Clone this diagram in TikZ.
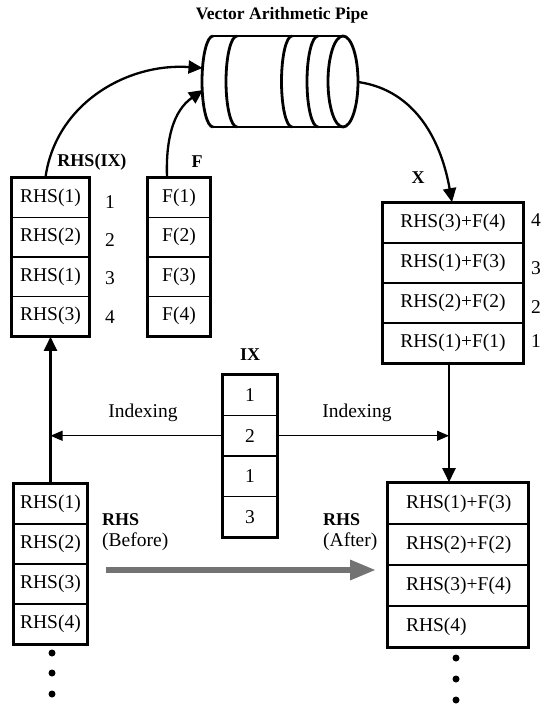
\documentclass[tikz,border=0pt]{standalone}
\usepackage{fontspec}
\setmainfont{Liberation Serif}
\usetikzlibrary{arrows.meta,calc}
\newcommand\cellfont{\fontsize{19.5}{21}\selectfont}
\newcommand\labfont{\fontsize{18}{20}\selectfont\bfseries}
\begin{document}
\begin{tikzpicture}[x=1pt,y=1pt,
  cell/.style={draw, line width=1.6pt, inner sep=0pt, font=\cellfont, anchor=center},
  frame/.style={line width=3.2pt},
  lab/.style={font=\labfont, inner sep=0pt},
  txt/.style={font=\cellfont, inner sep=0pt},
  conn/.style={line width=2.3pt, -{Triangle[length=14pt,width=13pt]}},
  idx/.style={line width=1.1pt, -{Triangle[length=12pt,width=10pt]}},
  pipe/.style={line width=2.8pt},
  dot/.style={fill=black, circle, inner sep=0pt, minimum size=7pt}]
\useasboundingbox (0,0) rectangle (554,-706);

% title
\node[lab, font=\fontsize{17.5}{19}\selectfont\bfseries] (title) at (282,-15) {Vector Arithmetic Pipe};

% the pipe: a cylinder with ring arcs
\draw[pipe] (213,-36) -- (343,-36) (213,-127) -- (343,-127);
\draw[pipe] (213,-36) arc[start angle=90, end angle=270, x radius=11, y radius=45.5];
\draw[pipe] (237,-36) arc[start angle=90, end angle=270, x radius=11, y radius=45.5];
\draw[pipe] (292,-36) arc[start angle=90, end angle=270, x radius=10.5, y radius=45.5];
\draw[pipe] (318,-36) arc[start angle=90, end angle=270, x radius=11, y radius=45.5];
\draw[pipe] (343,-81.5) ellipse[x radius=15, y radius=45.5];
\coordinate (pipeA) at (202.5,-68);
\coordinate (pipeB) at (203,-90);
\coordinate (pipeC) at (358,-82);

% RHS(IX) column
\foreach \t [count=\i] in {RHS(1),RHS(2),RHS(1),RHS(3)}
  \node[cell, minimum width=77pt, minimum height=39.5pt] (a\i) at (50.5,-178-39.5*\i+19.75) {\t};
\draw[frame] (a1.north west) rectangle (a4.south east);
\node[lab] (lrix) at (92,-162) {RHS(IX)};
\foreach \n/\y in {1/202,2/240,3/278,4/317}
  \node[txt] (an\n) at (110,-\y) {\n};

% F column
\foreach \i in {1,...,4}
  \node[cell, minimum width=62pt, minimum height=39.5pt] (f\i) at (179,-178-39.5*\i+19.75) {F(\i)};
\draw[frame] (f1.north west) rectangle (f4.south east);
\node[lab] (lf) at (197,-162) {F};

% X column
\foreach \t [count=\i] in {RHS(3)+F(4),RHS(1)+F(3),RHS(2)+F(2),RHS(1)+F(1)}
  \node[cell, minimum width=140pt, minimum height=40pt] (x\i) at (453,-203-40*\i+20) {\t};
\draw[frame] (x1.north west) rectangle (x4.south east);
\node[lab] (lx) at (418,-178) {X};
\foreach \n/\y in {4/220,3/268,2/307,1/341}
  \node[txt] (xn\n) at (536,-\y) {\n};

% IX column
\foreach \t [count=\i] in {1,2,1,3}
  \node[cell, minimum width=54pt, minimum height=40.5pt] (ix\i) at (250,-375-40.5*\i+20.25) {\t};
\draw[frame] (ix1.north west) rectangle (ix4.south east);
\node[lab] (lix) at (250,-355) {IX};

% RHS before
\foreach \i in {1,...,4}
  \node[cell, minimum width=73pt, minimum height=40pt] (b\i) at (50.5,-484-40*\i+20) {RHS(\i)};
\draw[frame] (b1.north west) rectangle (b4.south east);
\node[lab, anchor=west] (lb1) at (102,-520) {RHS};
\node[txt, anchor=west] (lb2) at (102,-542) {(Before)};

% RHS after
\foreach \t [count=\i] in {RHS(1)+F(3),RHS(2)+F(2),RHS(3)+F(4),RHS(4)}
  \node[cell, text width=104pt, inner xsep=18pt, align=left, minimum height=41pt] (r\i) at (458,-483-41*\i+20.5) {\t};
\draw[frame] (r1.north west) rectangle (r4.south east);
\node[lab, anchor=west] (lr1) at (323,-520) {RHS};
\node[txt, anchor=west] (lr2) at (323,-542) {(After)};

% continuation dots
\foreach \y [count=\k] in {653,673,694}
  \node[dot] (bd\k) at (52,-\y) {};
\foreach \y [count=\k] in {658,679,700}
  \node[dot] (rd\k) at (456,-\y) {};

% connectors
\coordinate (xout) at ([xshift=-4pt]x4.south);
\draw[conn] ([xshift=-5pt]a1.north) to[out=82, in=176] (pipeA);
\draw[conn] ([xshift=-12pt]f1.north) to[out=92, in=215] (pipeB);
\draw[conn] (pipeC) to[out=-8, in=100] ([xshift=-1pt]x1.north);
\draw[conn] (b1.north) -- (a4.south);
\draw[conn] (xout) -- (xout |- r1.north);

% indexing arrows
\draw[idx] (ix2.west) -- (ix2.west -| a4.south);
\draw[idx] (ix2.east) -- (ix2.east -| xout);
\node[txt] (ind1) at (143,-413) {Indexing};
\node[txt] (ind2) at (357,-413) {Indexing};

% before -> after
\coordinate (gs) at (106,-570);
\coordinate (ge) at (376,-570);
\draw[line width=6pt, black!55, -{Triangle[length=26pt,width=19pt]}] (gs) -- (ge);
\end{tikzpicture}
\end{document}
